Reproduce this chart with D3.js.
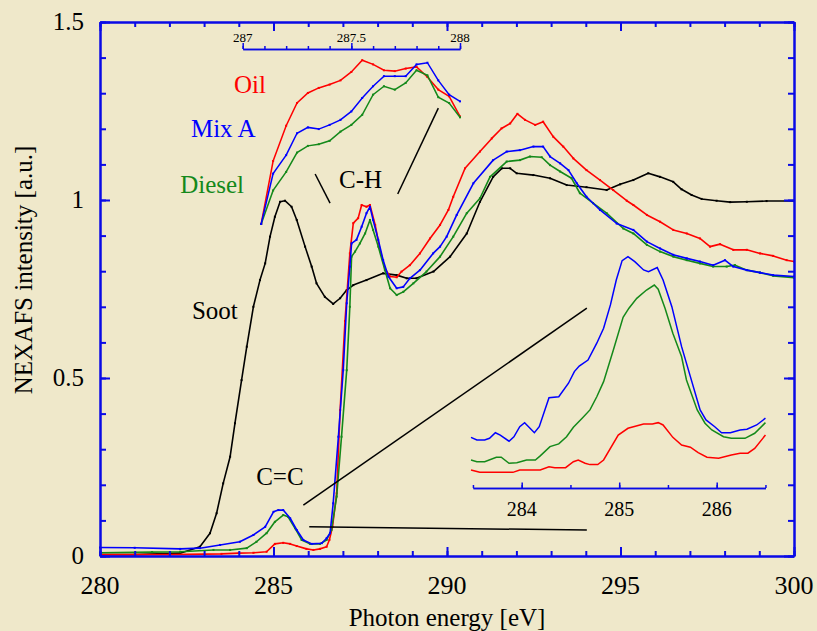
<!DOCTYPE html>
<html>
<head>
<meta charset="utf-8">
<script src="https://cdn.jsdelivr.net/npm/d3@7"></script>
</head>
<body style="margin:0;background:#efe8ca">
<div id="chart"></div>
<script>
// ---- data: [photon energy (eV), NEXAFS intensity (a.u.)] ----
var sootData = [[280.0,0.004],[281.0,0.004],[282.31,0.008],[282.88,0.026],[283.17,0.064],[283.36,0.120],[283.55,0.204],[283.75,0.279],[283.89,0.373],[284.08,0.494],[284.23,0.588],[284.42,0.700],[284.61,0.775],[284.76,0.822],[284.90,0.897],[285.04,0.953],[285.19,0.995],[285.33,0.998],[285.52,0.981],[285.67,0.944],[285.91,0.869],[286.10,0.813],[286.24,0.766],[286.48,0.728],[286.72,0.708],[286.92,0.724],[287.11,0.747],[287.30,0.761],[287.68,0.775],[288.16,0.794],[288.55,0.789],[288.84,0.780],[289.12,0.780],[289.61,0.799],[290.09,0.841],[290.57,0.906],[290.95,0.995],[291.33,1.065],[291.58,1.089],[291.82,1.089],[292.01,1.075],[292.49,1.070],[292.97,1.061],[293.45,1.042],[294.02,1.036],[294.60,1.028],[294.99,1.044],[295.37,1.056],[295.80,1.075],[296.14,1.065],[296.52,1.051],[296.76,1.030],[297.05,1.014],[297.34,1.003],[297.77,0.998],[298.16,0.994],[298.64,0.995],[299.21,0.997],[300.0,0.997]];

var oilData = [[280.0,0.004],[282.0,0.004],[283.5,0.006],[284.0,0.008],[284.42,0.009],[284.80,0.012],[285.04,0.034],[285.28,0.037],[285.48,0.034],[285.67,0.028],[285.95,0.020],[286.15,0.017],[286.34,0.020],[286.53,0.026],[286.61,0.045],[286.70,0.082],[286.82,0.176],[286.92,0.410],[287.06,0.660],[287.20,0.850],[287.30,0.935],[287.44,0.949],[287.54,0.986],[287.68,0.981],[287.78,0.986],[287.93,0.930],[288.07,0.860],[288.21,0.808],[288.36,0.785],[288.55,0.783],[288.69,0.799],[288.93,0.817],[289.22,0.850],[289.51,0.892],[289.80,0.930],[290.04,0.972],[290.18,1.009],[290.52,1.089],[290.95,1.136],[291.29,1.173],[291.57,1.201],[291.82,1.215],[292.03,1.242],[292.25,1.225],[292.54,1.211],[292.77,1.220],[293.06,1.178],[293.35,1.150],[293.64,1.117],[294.02,1.084],[294.41,1.056],[294.79,1.028],[295.18,0.998],[295.37,0.986],[295.76,0.958],[296.14,0.939],[296.52,0.916],[296.91,0.906],[297.29,0.892],[297.58,0.869],[297.87,0.876],[298.25,0.860],[298.64,0.860],[299.02,0.850],[299.40,0.843],[299.79,0.831],[300.0,0.827]];

var mixAData = [[280.0,0.024],[281.0,0.023],[282.31,0.020],[282.88,0.022],[283.46,0.031],[284.03,0.040],[284.42,0.059],[284.76,0.082],[285.0,0.124],[285.14,0.129],[285.28,0.129],[285.48,0.106],[285.67,0.073],[285.86,0.045],[286.10,0.034],[286.39,0.036],[286.53,0.050],[286.63,0.064],[286.72,0.148],[286.87,0.335],[287.01,0.522],[287.11,0.710],[287.20,0.813],[287.25,0.878],[287.39,0.888],[287.54,0.925],[287.68,0.963],[287.78,0.981],[287.87,0.944],[288.02,0.888],[288.16,0.831],[288.31,0.785],[288.55,0.752],[288.74,0.756],[288.93,0.780],[289.22,0.803],[289.60,0.850],[289.80,0.869],[289.99,0.897],[290.28,0.958],[290.76,1.047],[291.33,1.112],[291.72,1.136],[292.10,1.140],[292.49,1.150],[292.77,1.150],[292.97,1.122],[293.26,1.103],[293.50,1.084],[293.74,1.047],[294.02,1.009],[294.41,0.972],[294.89,0.934],[295.37,0.916],[295.76,0.883],[296.14,0.864],[296.52,0.846],[296.91,0.836],[297.29,0.827],[297.67,0.817],[298.01,0.831],[298.25,0.813],[298.64,0.803],[299.02,0.796],[299.40,0.789],[300.0,0.785]];

var dieselData = [[280.0,0.009],[281.5,0.011],[282.31,0.012],[283.27,0.017],[283.75,0.017],[284.23,0.022],[284.51,0.040],[284.80,0.064],[285.04,0.096],[285.28,0.115],[285.42,0.110],[285.62,0.078],[285.81,0.045],[286.05,0.034],[286.34,0.034],[286.53,0.045],[286.67,0.073],[286.82,0.167],[286.96,0.335],[287.11,0.522],[287.20,0.700],[287.25,0.841],[287.35,0.855],[287.49,0.878],[287.64,0.906],[287.78,0.944],[287.87,0.916],[288.02,0.869],[288.21,0.803],[288.36,0.752],[288.55,0.733],[288.74,0.742],[289.03,0.766],[289.41,0.799],[289.80,0.841],[290.18,0.897],[290.57,0.963],[290.95,1.005],[291.24,1.065],[291.72,1.108],[292.10,1.112],[292.39,1.122],[292.73,1.120],[292.97,1.098],[293.26,1.080],[293.59,1.061],[293.83,1.019],[294.21,0.991],[294.60,0.963],[295.08,0.920],[295.37,0.906],[295.76,0.874],[296.14,0.855],[296.52,0.841],[296.91,0.831],[297.29,0.822],[297.67,0.813],[298.06,0.813],[298.30,0.817],[298.64,0.803],[299.02,0.796],[299.40,0.787],[300.0,0.782]];

// C-H inset (287 - 288 eV)
var chEnergy = [287.085,287.14,287.2,287.25,287.3,287.35,287.4,287.45,287.5,287.55,287.6,287.65,287.7,287.75,287.8,287.85,287.9,287.95,288.0];
var chOil    = [0.800,0.875,0.917,0.944,0.956,0.962,0.966,0.971,0.981,0.995,0.990,0.983,0.982,0.985,0.987,0.975,0.960,0.952,0.928];
var chMixA   = [0.800,0.860,0.882,0.908,0.915,0.913,0.918,0.924,0.934,0.950,0.964,0.976,0.976,0.976,0.990,0.992,0.971,0.954,0.946];
var chDiesel = [0.800,0.840,0.862,0.885,0.893,0.895,0.899,0.910,0.918,0.930,0.954,0.964,0.960,0.968,0.983,0.977,0.951,0.944,0.927];

// C=C inset (283.5 - 286.5 eV)
var ccMixA = [[283.48,0.0262],[283.54,0.0248],[283.62,0.0248],[283.67,0.0257],[283.73,0.0286],[283.78,0.0274],[283.87,0.0242],[283.92,0.0265],[283.98,0.0317],[284.03,0.0338],[284.13,0.0286],[284.18,0.0317],[284.28,0.0467],[284.38,0.0472],[284.48,0.0542],[284.54,0.0602],[284.59,0.0631],[284.68,0.0662],[284.77,0.0749],[284.84,0.0826],[284.91,0.0947],[284.97,0.1076],[285.03,0.1176],[285.09,0.1197],[285.16,0.1171],[285.25,0.1128],[285.30,0.1119],[285.39,0.1140],[285.45,0.1076],[285.54,0.0938],[285.64,0.0731],[285.73,0.0576],[285.83,0.0404],[285.89,0.0352],[285.98,0.0317],[286.05,0.0286],[286.14,0.0286],[286.24,0.0300],[286.31,0.0304],[286.41,0.0326],[286.50,0.0361]];
var ccDiesel = [[283.48,0.0145],[283.54,0.0136],[283.62,0.0136],[283.74,0.0159],[283.79,0.0159],[283.87,0.0128],[283.95,0.0131],[284.05,0.0145],[284.14,0.0145],[284.19,0.0166],[284.29,0.0214],[284.38,0.0228],[284.46,0.0265],[284.53,0.0314],[284.62,0.0361],[284.70,0.0404],[284.77,0.0472],[284.84,0.0550],[284.94,0.0714],[285.04,0.0883],[285.10,0.0930],[285.18,0.0981],[285.28,0.1024],[285.36,0.1050],[285.40,0.1028],[285.47,0.0930],[285.55,0.0800],[285.64,0.0679],[285.69,0.0559],[285.80,0.0404],[285.88,0.0335],[285.95,0.0300],[286.07,0.0265],[286.15,0.0257],[286.29,0.0257],[286.39,0.0283],[286.50,0.0338]];
var ccOil = [[283.48,0.0093],[283.57,0.0081],[283.91,0.0081],[283.98,0.0093],[284.19,0.0093],[284.28,0.0110],[284.34,0.0105],[284.45,0.0105],[284.53,0.0136],[284.58,0.0145],[284.65,0.0128],[284.70,0.0121],[284.78,0.0121],[284.84,0.0145],[284.99,0.0274],[285.09,0.0309],[285.25,0.0331],[285.34,0.0331],[285.40,0.0338],[285.45,0.0326],[285.55,0.0262],[285.64,0.0222],[285.73,0.0211],[285.81,0.0183],[285.90,0.0159],[286.02,0.0154],[286.15,0.0171],[286.24,0.0180],[286.32,0.0180],[286.39,0.0205],[286.50,0.0274]];

var xTickLabels = [280, 285, 290, 295, 300];
var yTickLabels = [0, 0.5, 1, 1.5];
var chTickLabels = [287, 287.5, 288];
var ccTickLabels = [284, 285, 286];

// ---- layout ----
var W = 817, H = 631;
var axisBlue = '#0a0ae6';
var colors = { oil: '#ff0000', mix: '#0000ff', diesel: '#14891a', soot: '#000000' };

var svg = d3.select('#chart').append('svg')
    .attr('width', W).attr('height', H);

svg.append('rect').attr('width', W).attr('height', H).attr('fill', '#efe8ca');

// serif text helper: family set straight on each text node
function addText(parent, cls) {
    return parent.append('text').attr('class', cls || null)
        .attr('font-family', 'Liberation Serif')
        .style('font-family', "'Liberation Serif', monospace");
}

var x = d3.scaleLinear().domain([280, 300]).range([100, 794]);
var y = d3.scaleLinear().domain([0, 1.5]).range([556, 22]);

var line = d3.line()
    .x(function(d) { return x(d[0]); })
    .y(function(d) { return y(d[1]); });

function drawSeries(data, color) {
    svg.append('path').datum(data)
        .attr('d', line)
        .attr('fill', 'none')
        .attr('stroke', color)
        .attr('stroke-width', 1.6)
        .attr('stroke-linejoin', 'round');
    svg.append('g').selectAll('rect').data(data).enter().append('rect')
        .attr('x', function(d) { return x(d[0]) - 1; })
        .attr('y', function(d) { return y(d[1]) - 1; })
        .attr('width', 2).attr('height', 2)
        .attr('fill', color);
}

drawSeries(sootData, colors.soot);
drawSeries(oilData, colors.oil);
drawSeries(dieselData, colors.diesel);
drawSeries(mixAData, colors.mix);

// ---- frame with inward ticks ----
function styleAxis(g) {
    g.selectAll('path, line').attr('stroke', axisBlue).attr('stroke-width', 2);
    g.selectAll('text').remove();
}
var minorX = d3.range(280, 301, 1), majorX = xTickLabels;
var minorY = d3.range(0, 1.51, 0.1), majorY = yTickLabels;

svg.append('g').attr('transform', 'translate(0,556)')
    .call(d3.axisBottom(x).tickValues(minorX).tickSize(-5).tickSizeOuter(0)).call(styleAxis);
svg.append('g').attr('transform', 'translate(0,556)')
    .call(d3.axisBottom(x).tickValues(majorX).tickSize(-9).tickSizeOuter(0)).call(styleAxis);
svg.append('g').attr('transform', 'translate(0,22)')
    .call(d3.axisTop(x).tickValues(minorX).tickSize(-5).tickSizeOuter(0)).call(styleAxis);
svg.append('g').attr('transform', 'translate(0,22)')
    .call(d3.axisTop(x).tickValues(majorX).tickSize(-9).tickSizeOuter(0)).call(styleAxis);
svg.append('g').attr('transform', 'translate(100,0)')
    .call(d3.axisLeft(y).tickValues(minorY).tickSize(-6).tickSizeOuter(0)).call(styleAxis);
svg.append('g').attr('transform', 'translate(100,0)')
    .call(d3.axisLeft(y).tickValues(majorY).tickSize(-10).tickSizeOuter(0)).call(styleAxis);
svg.append('g').attr('transform', 'translate(794,0)')
    .call(d3.axisRight(y).tickValues(minorY).tickSize(-6).tickSizeOuter(0)).call(styleAxis);
svg.append('g').attr('transform', 'translate(794,0)')
    .call(d3.axisRight(y).tickValues(majorY).tickSize(-10).tickSizeOuter(0)).call(styleAxis);

xTickLabels.forEach(function(d) {
    addText(svg).attr('x', x(d)).attr('y', 594)
        .attr('text-anchor', 'middle').attr('font-size', 26).text(d);
});
yTickLabels.forEach(function(d) {
    addText(svg).attr('x', 84).attr('y', y(d) + 8)
        .attr('text-anchor', 'end').attr('font-size', 25).text(String(d));
});

addText(svg).attr('x', 447).attr('y', 626)
    .attr('text-anchor', 'middle').attr('font-size', 25)
    .text('Photon energy [eV]');
addText(svg)
    .attr('transform', 'translate(32,270) rotate(-90)')
    .attr('text-anchor', 'middle').attr('font-size', 25)
    .text('NEXAFS intensity [a.u.]');

// ---- C-H inset ----
var x1 = d3.scaleLinear().domain([287, 288]).range([242.7, 460]);
var y1 = d3.scaleLinear().domain([0.8, 1.0]).range([224, 56]);
var line1 = d3.line()
    .x(function(d) { return x1(d[0]); })
    .y(function(d) { return y1(d[1]); });

[[chOil, colors.oil], [chDiesel, colors.diesel], [chMixA, colors.mix]].forEach(function(s) {
    var pts = chEnergy.map(function(e, i) { return [e, s[0][i]]; });
    svg.append('path').datum(pts).attr('d', line1)
        .attr('fill', 'none').attr('stroke', s[1]).attr('stroke-width', 1.5);
    svg.append('g').selectAll('rect').data(pts).enter().append('rect')
        .attr('x', function(d) { return x1(d[0]) - 1; })
        .attr('y', function(d) { return y1(d[1]) - 1; })
        .attr('width', 2).attr('height', 2).attr('fill', s[1]);
});

function styleInset(g) {
    g.selectAll('path, line').attr('stroke', axisBlue).attr('stroke-width', 1.5);
    g.selectAll('text').remove();
}
svg.append('g').attr('transform', 'translate(0,49)')
    .call(d3.axisTop(x1).tickValues(d3.range(287, 288.01, 0.1)).tickSize(3).tickSizeOuter(0)).call(styleInset);
svg.append('g').attr('transform', 'translate(0,49)')
    .call(d3.axisTop(x1).tickValues(chTickLabels).tickSize(6).tickSizeOuter(0)).call(styleInset);
chTickLabels.forEach(function(d) {
    addText(svg).attr('x', x1(d)).attr('y', 42)
        .attr('text-anchor', 'middle').attr('font-size', 13).text(d);
});

// ---- C=C inset ----
var x2 = d3.scaleLinear().domain([284, 286]).range([521.7, 716.7]);
var y2 = d3.scaleLinear().domain([0, 0.12]).range([488, 256]);
var line2 = d3.line()
    .x(function(d) { return x2(d[0]); })
    .y(function(d) { return y2(d[1]); });

[[ccOil, colors.oil], [ccDiesel, colors.diesel], [ccMixA, colors.mix]].forEach(function(s) {
    svg.append('path').datum(s[0]).attr('d', line2)
        .attr('fill', 'none').attr('stroke', s[1]).attr('stroke-width', 1.5);
});

var x2Axis = d3.scaleLinear().domain([283.5, 286.5]).range([x2(283.5), x2(286.5)]);
svg.append('g').attr('transform', 'translate(0,488)')
    .call(d3.axisBottom(x2Axis).tickValues(d3.range(283.5, 286.51, 0.5)).tickSize(-3).tickSizeOuter(0)).call(styleInset);
svg.append('g').attr('transform', 'translate(0,488)')
    .call(d3.axisBottom(x2Axis).tickValues(ccTickLabels).tickSize(-5.5).tickSizeOuter(0)).call(styleInset);
ccTickLabels.forEach(function(d) {
    addText(svg).attr('x', x2(d)).attr('y', 516)
        .attr('text-anchor', 'middle').attr('font-size', 20).text(d);
});

// ---- annotations (main-axis units) ----
var leaders = [
    [[286.20, 1.073], [286.63, 0.991]],
    [[289.75, 1.258], [288.58, 1.017]],
    [[285.86, 0.143], [294.03, 0.696]],
    [[286.03, 0.082], [294.03, 0.073]]
];
leaders.forEach(function(l) {
    svg.append('line')
        .attr('x1', x(l[0][0])).attr('y1', y(l[0][1]))
        .attr('x2', x(l[1][0])).attr('y2', y(l[1][1]))
        .attr('stroke', '#000').attr('stroke-width', 1.5);
});

var labels = [
    { t: 'Oil', e: 283.86, v: 1.301, c: colors.oil },
    { t: 'Mix A', e: 282.62, v: 1.177, c: colors.mix },
    { t: 'Diesel', e: 282.31, v: 1.020, c: colors.diesel },
    { t: 'C-H', e: 286.89, v: 1.034, c: '#000' },
    { t: 'Soot', e: 282.65, v: 0.666, c: '#000' },
    { t: 'C=C', e: 284.50, v: 0.199, c: '#000' }
];
labels.forEach(function(d) {
    addText(svg).attr('x', x(d.e)).attr('y', y(d.v))
        .attr('font-size', 25).attr('fill', d.c).text(d.t);
});
</script>
</body>
</html>
